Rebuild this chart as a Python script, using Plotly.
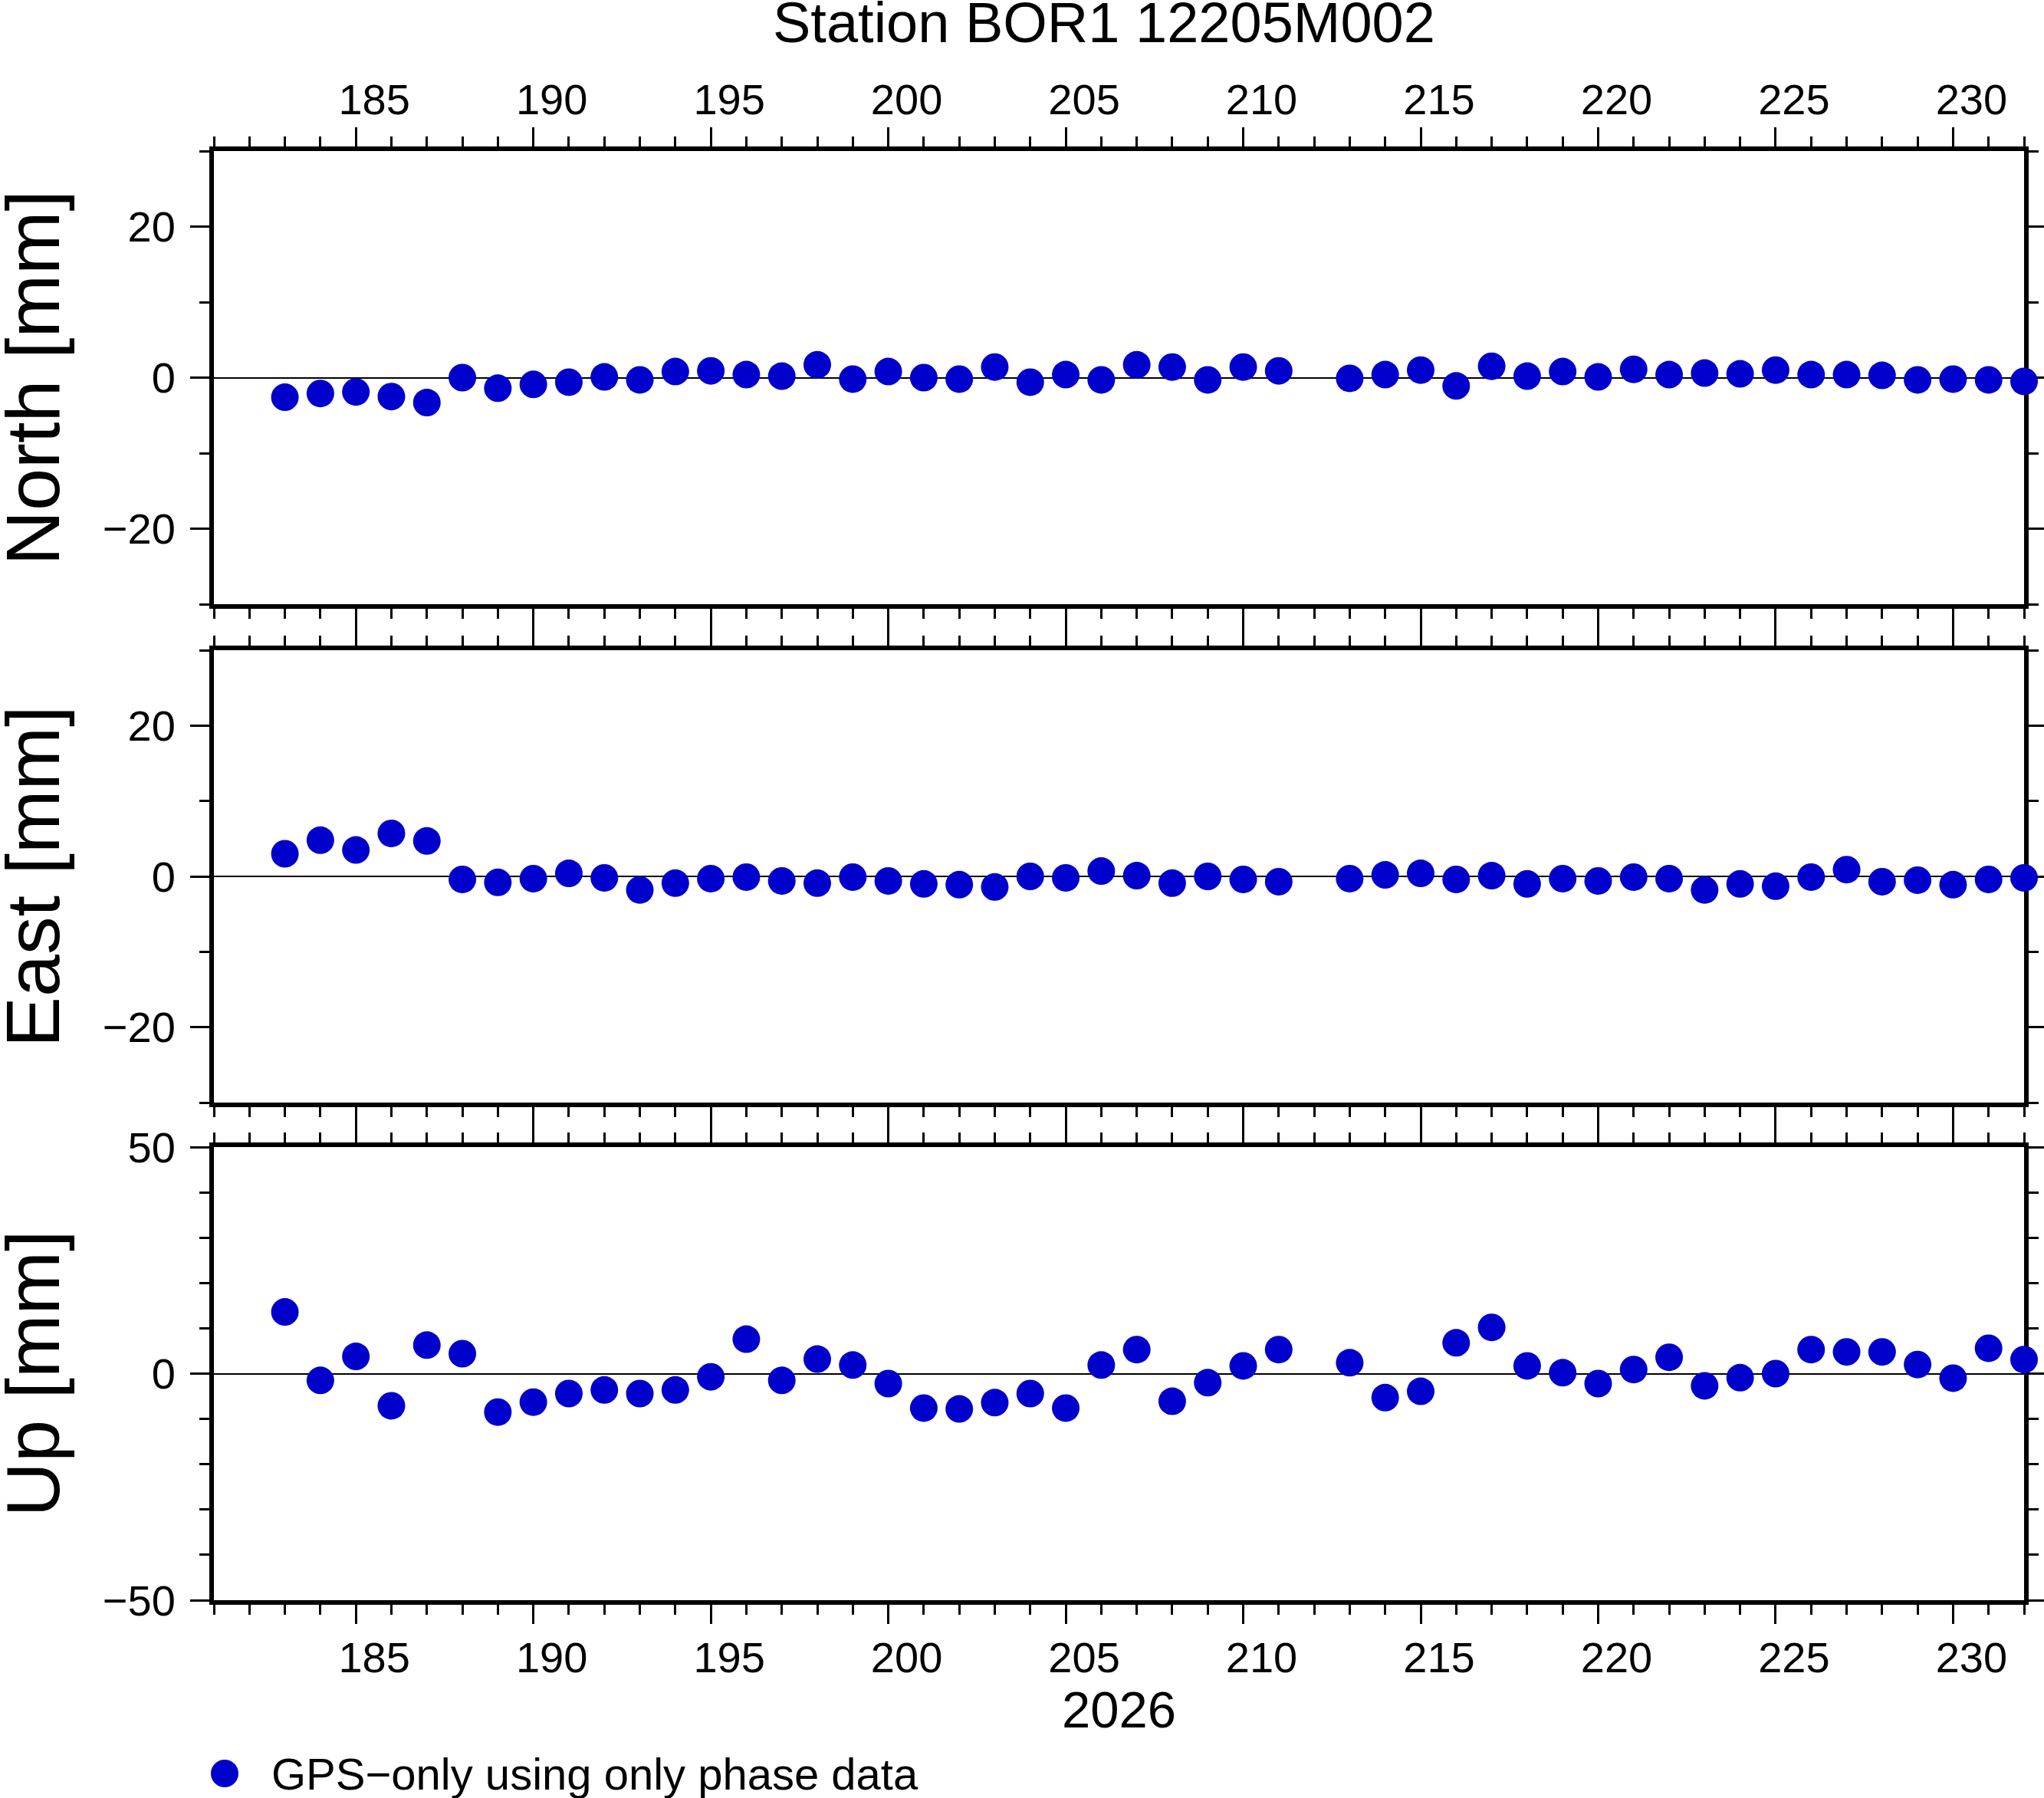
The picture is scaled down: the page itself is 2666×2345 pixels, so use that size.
import plotly.graph_objects as go

# Day of year 2026 (day 212 missing)
days = [183, 184, 185, 186, 187, 188, 189, 190, 191, 192, 193, 194, 195, 196,
        197, 198, 199, 200, 201, 202, 203, 204, 205, 206, 207, 208, 209, 210,
        211, 213, 214, 215, 216, 217, 218, 219, 220, 221, 222, 223, 224, 225,
        226, 227, 228, 229, 230, 231, 232]

north = [-2.6, -2.1, -1.9, -2.5, -3.3, 0.0, -1.4, -0.9, -0.6, 0.1, -0.3, 0.8,
         0.9, 0.4, 0.2, 1.7, -0.2, 0.8, 0.0, -0.2, 1.4, -0.6, 0.4, -0.3, 1.7,
         1.4, -0.3, 1.4, 0.9, -0.1, 0.4, 1.0, -1.1, 1.5, 0.2, 0.8, 0.1, 1.1,
         0.4, 0.6, 0.5, 1.0, 0.4, 0.4, 0.3, -0.3, -0.2, -0.3, -0.5]

east = [3.0, 4.8, 3.5, 5.7, 4.7, -0.4, -0.8, -0.3, 0.4, -0.2, -1.8, -0.9,
        -0.3, -0.1, -0.6, -0.9, -0.1, -0.6, -1.0, -1.1, -1.4, 0.0, -0.2, 0.7,
        0.1, -0.9, 0.0, -0.4, -0.7, -0.3, 0.2, 0.4, -0.4, 0.1, -1.0, -0.3,
        -0.6, -0.1, -0.3, -1.8, -1.0, -1.3, -0.1, 0.9, -0.7, -0.5, -1.1, -0.4,
        -0.2]

up = [13.6, -1.5, 3.8, -7.1, 6.3, 4.4, -8.5, -6.3, -4.4, -3.6, -4.4, -3.6,
      -0.7, 7.6, -1.5, 3.2, 1.9, -2.2, -7.6, -7.8, -6.4, -4.4, -7.6, 1.9, 5.3,
      -6.1, -2.0, 1.7, 5.3, 2.4, -5.3, -3.9, 6.8, 10.2, 1.7, 0.2, -2.2, 0.9,
      3.6, -2.7, -0.9, 0.0, 5.3, 4.8, 4.8, 2.0, -1.0, 5.6, 3.1]

panel_names = ["North [mm]", "East [mm]", "Up [mm]"]
y_ranges = [[-30, 30], [-30, 30], [-50, 50]]
y_dticks = [20, 20, 50]
x_range = [181, 232]
title = "Station BOR1 12205M002"
year_label = "2026"
legend_label = "GPS\u2212only using only phase data"

W, H = 2666, 2345
L, R, T, B = 279, 26, 197, 258
PH = H - T - B
BLUE = "#0000CC"
FONT = "Liberation Sans, Arial, Helvetica, sans-serif"

# panel pixel extents (top, bottom)
panels_px = [(197, 788), (848, 1438), (1496, 2087)]


def py(ypix):
    return (H - B - ypix) / PH


def px(xpix):
    return (xpix - L) / (W - L - R)


fig = go.Figure()

series = [north, east, up]
for i, vals in enumerate(series):
    n = i + 1
    fig.add_trace(go.Scatter(
        x=days, y=vals, mode="markers",
        marker=dict(color=BLUE, size=36, line=dict(width=0)),
        xaxis="x" if n == 1 else f"x{n}",
        yaxis="y" if n == 1 else f"y{n}",
        cliponaxis=False, showlegend=False,
        name=legend_label,
    ))

    top, bot = panels_px[i]
    xa = dict(
        range=x_range, autorange=False, automargin=False,
        anchor="y" if n == 1 else f"y{n}",
        showline=True, linewidth=6, linecolor="black", mirror="allticks",
        ticks="outside", ticklen=25, tickwidth=3, tickcolor="black",
        tick0=185, dtick=5,
        minor=dict(dtick=1, ticklen=13, tickwidth=3, tickcolor="black",
                   ticks="outside"),
        showgrid=False, zeroline=False, layer="below traces",
        tickfont=dict(size=56, color="black", family=FONT),
        ticklabelshift=24,
    )
    if n == 1:
        xa.update(side="top", showticklabels=True, ticklabelstandoff=-5)
    elif n == 2:
        xa.update(showticklabels=False, matches="x")
    else:
        xa.update(showticklabels=True, matches="x", ticklabelstandoff=-4)

    ya = dict(
        domain=[py(bot), py(top)],
        range=y_ranges[i], autorange=False, automargin=False,
        anchor="x" if n == 1 else f"x{n}",
        showline=True, linewidth=6, linecolor="black", mirror="allticks",
        ticks="outside", ticklen=25, tickwidth=3, tickcolor="black",
        tick0=0, dtick=y_dticks[i],
        minor=dict(dtick=10, ticklen=13, tickwidth=3, tickcolor="black",
                   ticks="outside"),
        showgrid=False, zeroline=True, zerolinecolor="black",
        zerolinewidth=1.5, layer="below traces",
        tickfont=dict(size=56, color="black", family=FONT),
        ticklabelstandoff=8,
    )
    fig.update_layout({("xaxis" if n == 1 else f"xaxis{n}"): xa,
                       ("yaxis" if n == 1 else f"yaxis{n}"): ya})

    fig.add_annotation(
        text=panel_names[i], xref="paper", yref="paper",
        x=px(42), y=py((top + bot) / 2), xanchor="center", yanchor="middle",
        textangle=-90, showarrow=False,
        font=dict(size=99, color="black", family=FONT),
    )

fig.add_annotation(
    text=title, xref="paper", yref="paper", x=px(1440), y=py(30),
    xanchor="center", yanchor="middle", showarrow=False,
    font=dict(size=74, color="black", family=FONT),
)
fig.add_annotation(
    text=year_label, xref="paper", yref="paper", x=px(1459), y=py(2229),
    xanchor="center", yanchor="middle", showarrow=False,
    font=dict(size=67, color="black", family=FONT),
)
fig.add_annotation(
    text=legend_label, xref="paper", yref="paper", x=px(352), y=py(2313),
    xanchor="left", yanchor="middle", showarrow=False,
    font=dict(size=58, color="black", family=FONT),
)
fig.add_shape(
    type="circle", xref="paper", yref="paper",
    xsizemode="pixel", ysizemode="pixel",
    xanchor=px(293), yanchor=py(2313),
    x0=-18, x1=18, y0=-18, y1=18,
    fillcolor=BLUE, line=dict(width=0),
)

fig.update_layout(
    width=W, height=H,
    margin=dict(l=L, r=R, t=T, b=B, pad=0, autoexpand=False),
    paper_bgcolor="white", plot_bgcolor="white",
    font=dict(family=FONT, color="black"),
    showlegend=False,
)

# put the figure at the window's corner and keep scrollbars away
page_fix = (
    "document.documentElement.style.overflow='hidden';"
    "document.body.style.margin='0px';"
    "document.body.style.overflow='hidden';"
)
fig.write_html("out.html", post_script=page_fix,
               config={"displayModeBar": False})
